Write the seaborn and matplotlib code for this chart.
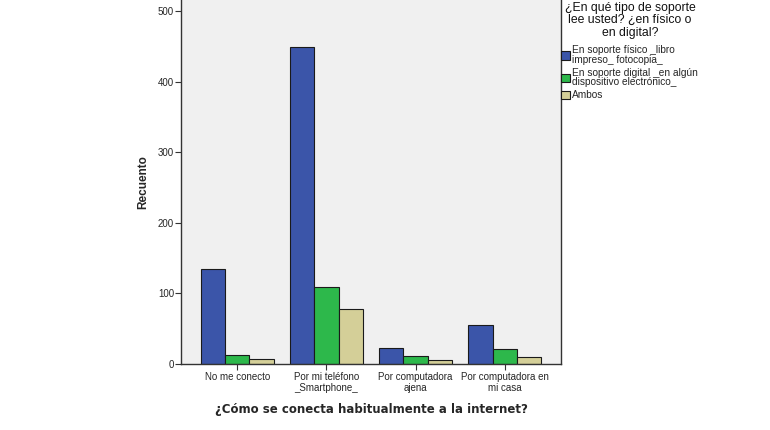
import matplotlib
matplotlib.use("Agg")
import matplotlib.pyplot as plt
import seaborn as sns
import pandas as pd

categorias = ["No me conecto", "Por mi teléfono\n_Smartphone_",
              "Por computadora\najena", "Por computadora en\nmi casa"]
series = ["En soporte físico _libro\nimpreso_ fotocopia_",
          "En soporte digital _en algún\ndispositivo electrónico_",
          "Ambos"]
fisico = [134, 449, 22, 54]
digital = [12, 108, 10, 21]
ambos = [6, 77, 5, 9]
colores = ["#3B55A9", "#2DB84B", "#D4CF98"]
yticks = [0, 100, 200, 300, 400, 500]
titulo_leyenda = "¿En qué tipo de soporte\nlee usted? ¿en físico o\nen digital?"

rows = []
for s, vals in zip(series, [fisico, digital, ambos]):
    for c, v in zip(categorias, vals):
        rows.append({"cat": c, "serie": s, "n": v})
df = pd.DataFrame(rows)

sns.set_theme(style="white")
plt.rcParams["font.family"] = ["Liberation Sans", "DejaVu Sans"]

fig = plt.figure(figsize=(7.7, 4.3), dpi=100)
fig.patch.set_facecolor("white")
ax = fig.add_axes([181/770, 1 - 363.5/430, (561-181)/770, 363.5/430])
ax.set_facecolor("#F0F0F0")

sns.barplot(data=df, x="cat", y="n", hue="serie", order=categorias,
            hue_order=series, palette=colores, width=0.82, ax=ax,
            edgecolor="#1a1a1a", linewidth=0.8, saturation=1, legend=True)

ax.set_xlim(-0.63, 3.63)
ax.set_ylim(0, 516)
ax.set_yticks(yticks)
ax.set_yticklabels([str(t) for t in yticks], fontsize=7)
ax.tick_params(axis="x", labelsize=7, length=4, width=0.8, color="#333333",
               direction="out", bottom=True, pad=2)
ax.tick_params(axis="y", length=4, width=0.8, color="#333333",
               direction="out", left=True, pad=1)
for side in ["left", "bottom", "right"]:
    ax.spines[side].set_visible(True)
    ax.spines[side].set_color("#333333")
    ax.spines[side].set_linewidth(1.0)
ax.spines["top"].set_visible(False)

ax.set_xlabel("¿Cómo se conecta habitualmente a la internet?",
              fontsize=8.5, fontweight="bold", family=["DejaVu Sans"], labelpad=7)
ax.set_ylabel("Recuento", fontsize=8.5, fontweight="bold", labelpad=6)

handles, labels = ax.get_legend_handles_labels()
ax.get_legend().remove()
fig.text(630/770, 1 - 1.5/430, titulo_leyenda, ha="center", va="top",
         fontsize=8.8, linespacing=1.08, color="#111111")
leg = fig.legend(handles, labels,
                 loc="upper left", bbox_to_anchor=(560.5/770, 1 - 45/430),
                 frameon=False, fontsize=7.3,
                 handlelength=0.9, handleheight=0.9, handletextpad=0.2,
                 labelspacing=0.3, borderpad=0.0, borderaxespad=0)
for t in leg.get_texts():
    t.set_linespacing(0.95)

fig.savefig("out.png", dpi=100)
